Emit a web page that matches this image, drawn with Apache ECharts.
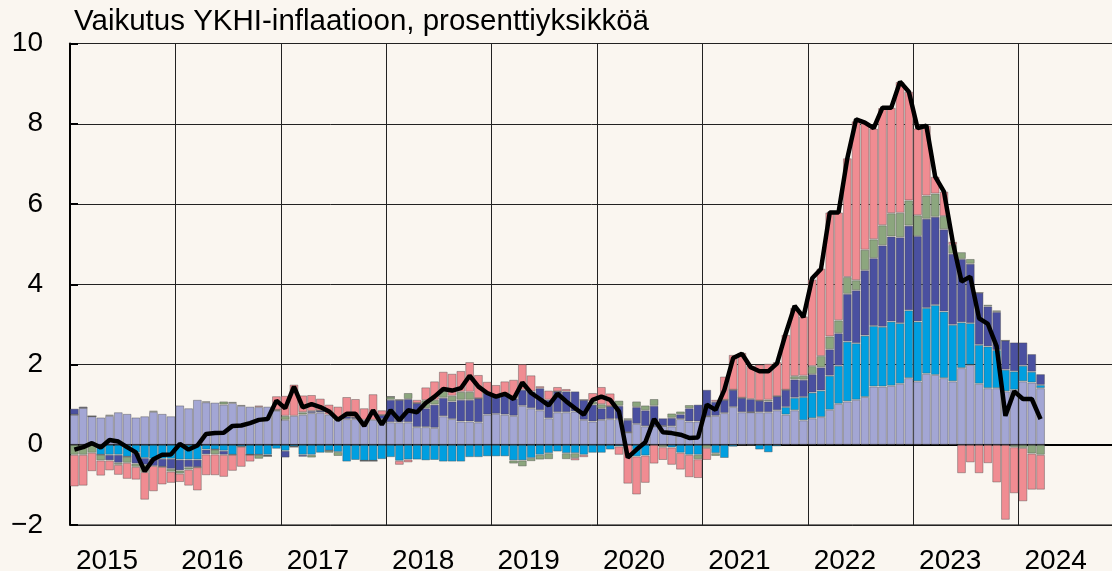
<!DOCTYPE html>
<html>
<head>
<meta charset="utf-8">
<script src="https://cdn.jsdelivr.net/npm/echarts@6.0.0/dist/echarts.min.js"></script>
<style>
  html, body { margin: 0; padding: 0; background: #faf6f0; }
  #chart { width: 1112px; height: 571px; }
</style>
</head>
<body>
<div id="chart"></div>
<script>
// kuukaudet 2015-01 ... 2024-12, data tammi 2015 - maalis 2024
const years = ['2015', '2016', '2017', '2018', '2019', '2020', '2021', '2022', '2023', '2024'];
const yTicks = [-2, 0, 2, 4, 6, 8, 10];

const lavender = [
  0.75, 0.92, 0.71, 0.68, 0.72, 0.81, 0.77, 0.68, 0.71, 0.82, 0.77, 0.71,
  0.98, 0.91, 1.12, 1.06, 1.05, 1.00, 1.04, 0.97, 0.95, 0.94, 0.95, 0.85,
  0.62, 0.72, 0.75, 0.79, 0.80, 0.75, 0.62, 0.64, 0.64, 0.62, 0.62, 0.64,
  0.56, 0.56, 0.56, 0.44, 0.44, 0.42, 0.71, 0.64, 0.58, 0.58, 0.56, 0.75,
  0.77, 0.75, 0.72, 0.97, 0.91, 0.86, 0.66, 0.81, 0.81, 0.83, 0.62, 0.58,
  0.62, 0.64, 0.64, 0.31, 0.52, 0.46, 0.46, 0.47, 0.46, 0.64, 0.58, 0.58,
  0.71, 0.72, 0.79, 0.94, 0.81, 0.81, 0.81, 0.81, 0.86, 0.75, 0.86, 0.61,
  0.66, 0.69, 0.87, 1.02, 1.08, 1.12, 1.19, 1.45, 1.45, 1.47, 1.52, 1.66,
  1.58, 1.77, 1.74, 1.66, 1.58, 1.91, 1.99, 1.52, 1.41, 1.41, 1.33, 1.37,
  1.58, 1.55, 1.41
];
const cyan = [
  0, 0, 0, -0.25, -0.25, -0.25, -0.30, -0.20, -0.33, -0.35, -0.35, -0.35,
  -0.37, -0.37, -0.37, -0.12, -0.12, -0.15, -0.25, -0.05, -0.25, -0.25, -0.25, -0.10,
  -0.15, -0.05, -0.25, -0.25, -0.20, -0.15, -0.18, -0.42, -0.38, -0.40, -0.40, -0.36,
  -0.31, -0.40, -0.37, -0.37, -0.39, -0.38, -0.42, -0.42, -0.42, -0.31, -0.31, -0.29,
  -0.29, -0.29, -0.39, -0.39, -0.33, -0.25, -0.21, -0.17, -0.21, -0.21, -0.25, -0.20,
  -0.20, -0.12, -0.04, 0, -0.29, -0.27, 0, 0, -0.07, -0.20, -0.25, -0.25,
  0, -0.21, -0.33, -0.05, -0.02, 0, -0.12, -0.19, -0.04, 0.19, 0.31, 0.58,
  0.64, 0.66, 0.85, 0.95, 1.49, 1.41, 1.53, 1.51, 1.49, 1.60, 1.51, 1.69,
  1.49, 1.64, 1.74, 1.66, 1.41, 1.14, 1.04, 0.97, 1.04, 0.95, 0.54, 0.46,
  0.39, 0.27, 0.08
];
const darkBlue = [
  0.15, 0.03, 0, 0, -0.14, -0.20, 0, -0.27, -0.17, -0.18, -0.20, -0.25,
  -0.27, -0.19, -0.19, -0.12, 0, -0.10, 0, 0, 0, 0, -0.03, 0.02,
  -0.17, 0, -0.05, 0.05, 0.05, 0, 0.04, 0.07, 0.05, 0, 0, 0.10,
  0.56, 0.56, 0.58, 0.60, 0.47, 0.58, 0.46, 0.44, 0.54, 0.54, 0.60, 0.54,
  0.47, 0.52, 0.44, 0.40, 0.42, 0.55, 0.46, 0.52, 0.52, 0.50, 0.50, 0.42,
  0.29, 0.32, 0.33, 0.31, 0.42, 0.40, 0.51, 0.19, 0.21, 0.12, 0.33, 0.42,
  0.66, 0.35, 0.33, 0.43, 0.36, 0.33, 0.29, 0.27, 0.35, 0.43, 0.46, 0.43,
  0.46, 0.58, 0.66, 0.81, 1.19, 1.32, 1.63, 1.69, 2.03, 2.12, 2.14, 2.11,
  2.13, 2.22, 2.20, 2.05, 1.77, 1.58, 1.48, 1.30, 1.00, 0.95, 0.73, 0.72,
  0.58, 0.44, 0.27
];
const green = [
  -0.25, -0.25, -0.20, -0.14, 0.03, -0.05, -0.15, -0.08, -0.18, 0.03, 0, -0.07,
  -0.08, -0.06, 0, 0.02, -0.12, 0.08, 0.03, 0.02, 0, -0.10, 0, 0,
  0.10, 0, 0.06, -0.07, 0, -0.05, -0.10, 0, 0, 0, 0, 0,
  0.08, 0, 0.15, 0, 0.20, 0.12, 0.17, 0.14, 0.20, 0.20, 0, 0,
  0, 0, -0.08, -0.15, -0.08, -0.12, -0.15, 0, -0.15, -0.12, 0, 0.08,
  0.10, 0, 0.13, 0.04, 0.14, 0.12, 0.17, -0.06, 0.11, 0.07, 0.08, -0.11,
  -0.08, -0.07, 0, 0, 0, -0.03, 0, 0.04, 0, 0, 0.08, 0.10,
  0.20, 0.28, 0.32, 0.32, 0.42, 0.25, 0.51, 0.47, 0.50, 0.58, 0.61, 0.63,
  0.52, 0.58, 0.58, 0.33, 0.22, 0.17, 0.12, 0, 0.04, 0.04, 0, -0.06,
  -0.08, -0.22, -0.25
];
const pink = [
  -0.79, -0.77, -0.46, -0.38, -0.25, -0.25, -0.40, -0.32, -0.69, -0.63, -0.44, -0.28,
  -0.21, -0.40, -0.58, -0.52, -0.52, -0.55, -0.40, -0.50, -0.17, 0.04, 0, 0.34,
  0.50, 0.78, 0.42, 0.40, 0.30, 0.25, 0.29, 0.48, 0.45, 0.29, 0.64, 0.12,
  0, -0.10, -0.07, 0.08, 0.32, 0.46, 0.48, 0.55, 0.52, 0.74, 0.58, 0.28,
  0.25, 0.31, 0.46, 0.64, 0.40, 0.05, 0.23, 0.11, 0.06, -0.06, -0.06, 0.21,
  0.43, 0.32, -0.21, -0.97, -0.95, -0.68, -0.47, -0.32, -0.43, -0.42, -0.56, -0.47,
  -0.30, 0.05, 0.58, 0.87, 1.12, 0.83, 0.90, 0.90, 0.85, 1.37, 1.70, 1.48,
  2.16, 2.18, 3.09, 2.69, 2.96, 3.96, 3.17, 2.76, 2.92, 2.63, 3.26, 2.71,
  2.16, 1.74, 0.42, 0.61, 0.08, -0.71, -0.44, -0.71, -0.46, -0.94, -1.87, -1.15,
  -1.33, -0.90, -0.87
];
const inflation = [
  -0.12, -0.06, 0.04, -0.07, 0.12, 0.08, -0.06, -0.19, -0.66, -0.36, -0.25, -0.24,
  0.02, -0.12, -0.02, 0.27, 0.29, 0.30, 0.47, 0.48, 0.54, 0.62, 0.64, 1.10,
  0.91, 1.45, 0.93, 1.01, 0.94, 0.83, 0.62, 0.77, 0.77, 0.47, 0.86, 0.50,
  0.86, 0.61, 0.86, 0.81, 1.04, 1.20, 1.39, 1.35, 1.41, 1.72, 1.45, 1.29,
  1.20, 1.27, 1.14, 1.55, 1.29, 1.14, 0.98, 1.27, 1.08, 0.91, 0.75, 1.12,
  1.20, 1.12, 0.83, -0.32, -0.12, 0.06, 0.64, 0.31, 0.29, 0.25, 0.17, 0.18,
  1.00, 0.87, 1.37, 2.16, 2.27, 1.93, 1.83, 1.83, 2.03, 2.78, 3.46, 3.18,
  4.15, 4.38, 5.79, 5.79, 7.14, 8.11, 8.03, 7.89, 8.40, 8.40, 9.05, 8.80,
  7.89, 7.95, 6.68, 6.31, 5.06, 4.07, 4.19, 3.15, 3.01, 2.45, 0.72, 1.33,
  1.14, 1.14, 0.64
];

let months = [];
years.forEach(y => {
  for (let m = 1; m <= 12; m++) {
    months.push(y + '-' + (m < 10 ? '0' + m : m));
  }
});

const font = '"Liberation Sans", Arial, sans-serif';

function barSeries(name, color, values) {
  return {
    name: name,
    type: 'bar',
    stack: 'total',
    barCategoryGap: '0%',
    itemStyle: {
      color: color,
      borderColor: 'rgba(70,70,70,0.4)',
      borderWidth: 1
    },
    data: values
  };
}

const chart = echarts.init(document.getElementById('chart'));
chart.setOption({
  animation: false,
  backgroundColor: '#faf6f0',
  title: {
    text: 'Vaikutus YKHI-inflaatioon, prosenttiyksikköä',
    left: 74,
    top: 7,
    padding: 0,
    textStyle: { fontFamily: font, fontSize: 29.5, fontWeight: 'normal', color: '#000' }
  },
  grid: {
    left: 70,
    top: 43.5,
    width: 1054,
    height: 481.5,
    outerBoundsMode: 'none',
    show: true,
    borderColor: '#000',
    borderWidth: 1
  },
  xAxis: {
    type: 'category',
    data: months,
    boundaryGap: true,
    axisLine: { lineStyle: { color: '#000', width: 2 } },
    axisTick: { show: false },
    axisLabel: {
      interval: (i) => i % 12 === 4,
      formatter: (v) => v.slice(0, 4),
      fontFamily: font,
      fontSize: 28,
      color: '#000',
      margin: 22,
      padding: [0, 5, 0, 0]
    },
    splitLine: {
      show: true,
      interval: (i) => i % 12 === 0,
      lineStyle: { color: '#222', width: 1 }
    }
  },
  yAxis: {
    type: 'value',
    min: yTicks[0],
    max: yTicks[yTicks.length - 1],
    interval: 2,
    axisLine: { show: true, lineStyle: { color: '#000', width: 2 } },
    axisTick: { show: true, inside: true, length: 8, lineStyle: { color: '#000', width: 2 } },
    axisLabel: {
      fontFamily: font,
      fontSize: 28,
      color: '#000',
      margin: 27,
      formatter: (v) => (v < 0 ? '\u2212' + Math.abs(v) : String(v))
    },
    splitLine: { lineStyle: { color: '#222', width: 1 } }
  },
  series: [
    barSeries('lavender', '#a3a6d4', lavender),
    barSeries('cyan', '#009fe0', cyan),
    barSeries('darkBlue', '#4a50a0', darkBlue),
    barSeries('green', '#8ca67e', green),
    barSeries('pink', '#f08c92', pink),
    {
      name: 'inflation',
      type: 'line',
      data: inflation,
      symbol: 'none',
      z: 10,
      lineStyle: { color: '#000', width: 4.5 }
    }
  ]
});
</script>
</body>
</html>
